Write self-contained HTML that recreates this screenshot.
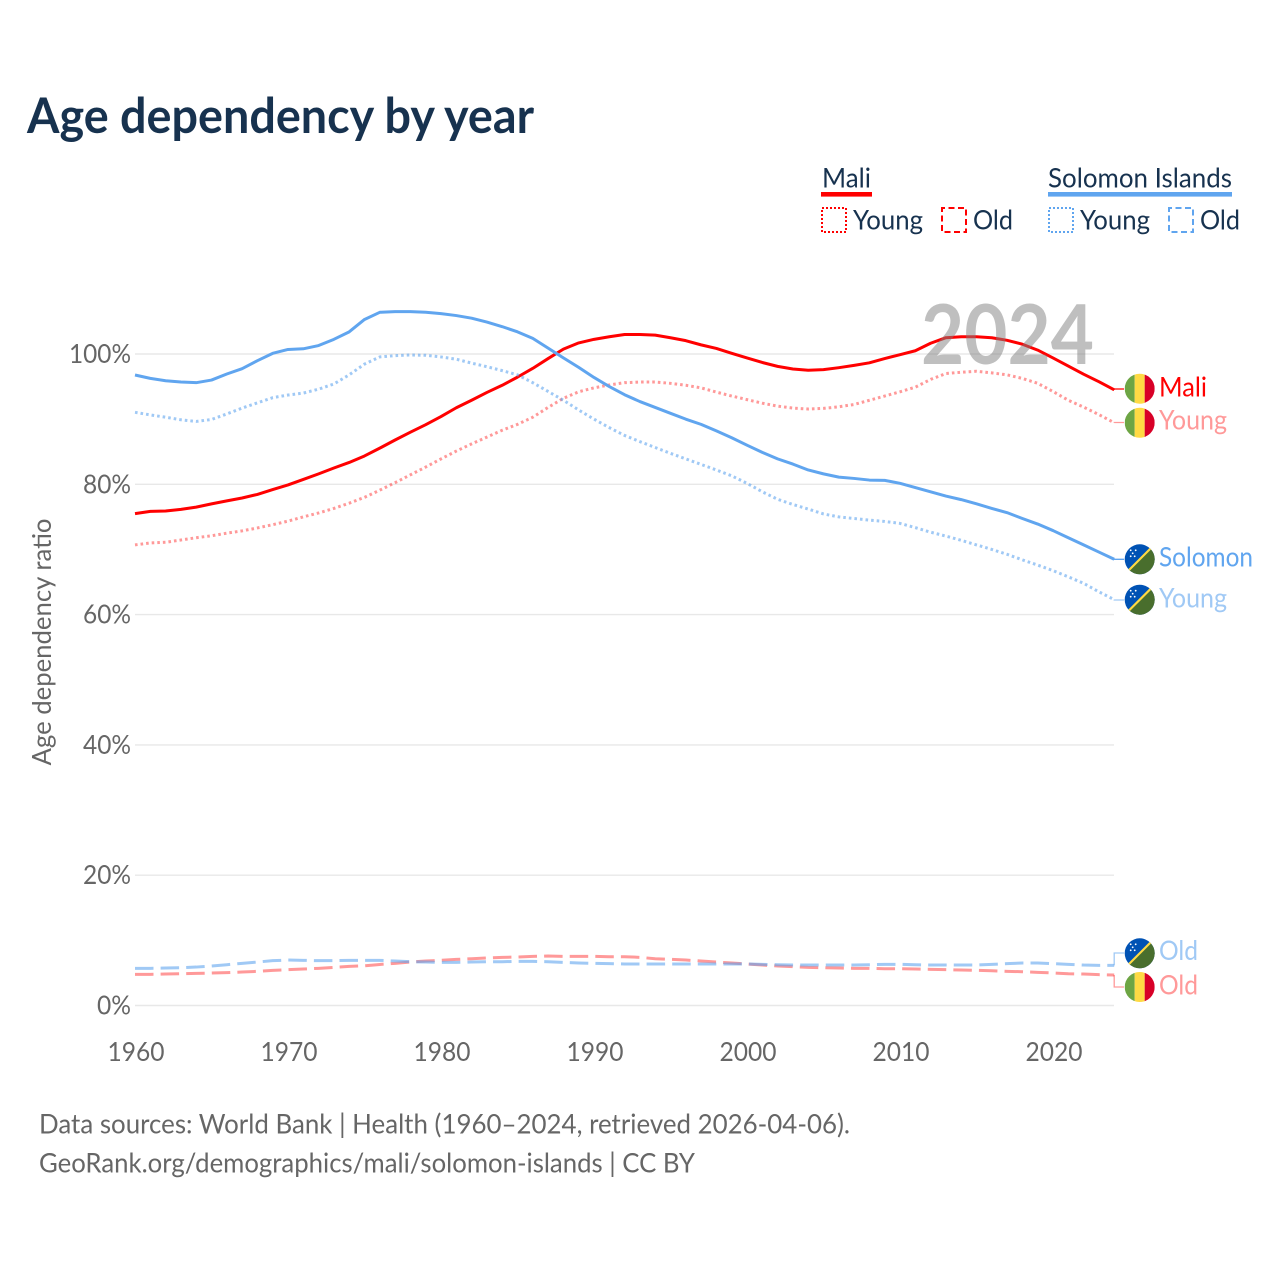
<!DOCTYPE html>
<html lang="en">
<head>
<meta charset="utf-8">
<title>Age dependency by year</title>
<style>
html,body{margin:0;padding:0;background:#fff}
svg{display:block;font-family:"Lato","Carlito","Liberation Sans",sans-serif}
</style>
</head>
<body>
<svg id="chart" xmlns="http://www.w3.org/2000/svg" width="1280" height="1280" viewBox="0 0 1280 1280">
  <defs>
    <clipPath id="flag-clip"><circle cx="0" cy="0" r="15"></circle></clipPath>
    <g id="flag-mali" clip-path="url(#flag-clip)">
      <rect x="-15" y="-16" width="10" height="32" fill="#6da544"></rect>
      <rect x="-5" y="-16" width="10" height="32" fill="#ffda44"></rect>
      <rect x="5" y="-16" width="10" height="32" fill="#d80027"></rect>
    </g>
    <g id="flag-solomon" clip-path="url(#flag-clip)">
      <rect x="-16" y="-16" width="32" height="32" fill="#0052b4"></rect>
      <polygon points="16,-16 16,16 -16,16" fill="#496e2d"></polygon>
      <line x1="-16" y1="16" x2="16" y2="-16" stroke="#ffda44" stroke-width="2.2"></line>
      <g fill="#fff">
        <circle cx="-9" cy="-3" r="0.9"></circle><circle cx="-5" cy="-3" r="0.9"></circle>
        <circle cx="-7" cy="-6" r="0.9"></circle><circle cx="-9" cy="-9" r="0.9"></circle><circle cx="-4" cy="-9" r="0.9"></circle>
      </g>
    </g>
  </defs>

  <text x="27" y="133" font-size="48.5" font-weight="700" fill="#17324f" textLength="507" lengthAdjust="spacingAndGlyphs">Age dependency by year</text>

  <g font-size="27.5" fill="#17324f">
    <text x="822" y="187.5" textLength="49" lengthAdjust="spacingAndGlyphs">Mali</text>
    <rect x="821" y="192" width="51" height="4.6" fill="#ff0000"></rect>
    <rect x="822" y="208" width="24" height="24" fill="none" stroke="#ff0000" stroke-width="2" stroke-dasharray="2 2"></rect>
    <text x="853" y="229.5" textLength="70" lengthAdjust="spacingAndGlyphs">Young</text>
    <rect x="942" y="208" width="24" height="24" fill="none" stroke="#ff0000" stroke-width="2" stroke-dasharray="6 3.5" stroke-dashoffset="3"></rect>
    <text x="973" y="229.5" textLength="40" lengthAdjust="spacingAndGlyphs">Old</text>

    <text x="1048" y="187.5" textLength="184" lengthAdjust="spacingAndGlyphs">Solomon Islands</text>
    <rect x="1048" y="192" width="184" height="4.6" fill="#60a5ef"></rect>
    <rect x="1049" y="208" width="24" height="24" fill="none" stroke="#60a5ef" stroke-width="2" stroke-dasharray="2 2"></rect>
    <text x="1080" y="229.5" textLength="70" lengthAdjust="spacingAndGlyphs">Young</text>
    <rect x="1169" y="208" width="24" height="24" fill="none" stroke="#60a5ef" stroke-width="2" stroke-dasharray="6 3.5" stroke-dashoffset="3"></rect>
    <text x="1200" y="229.5" textLength="40" lengthAdjust="spacingAndGlyphs">Old</text>
  </g>

  <g id="grid"></g>
  <g id="ticks" font-size="26" fill="#666666"></g>
  <text transform="translate(51,642) rotate(-90)" text-anchor="middle" font-size="26" fill="#666666" textLength="247" lengthAdjust="spacingAndGlyphs">Age dependency ratio</text>
  <g id="series" fill="none"></g>

  <text x="921" y="364" font-size="82" font-weight="700" fill="#808080" fill-opacity="0.5" textLength="173" lengthAdjust="spacingAndGlyphs">2024</text>

  <g font-size="27.5">
    <use href="#flag-mali" x="1139.7" y="388.7"></use>
    <text x="1159" y="396.5" fill="#ff0000" textLength="48" lengthAdjust="spacingAndGlyphs">Mali</text>
    <use href="#flag-mali" x="1139.7" y="422.8"></use>
    <text x="1159" y="429.5" fill="#ff9999" textLength="68" lengthAdjust="spacingAndGlyphs">Young</text>
    <use href="#flag-solomon" x="1139.7" y="559.3"></use>
    <text x="1159" y="566.5" fill="#60a5ef" textLength="94" lengthAdjust="spacingAndGlyphs">Solomon</text>
    <use href="#flag-solomon" x="1139.7" y="599.7"></use>
    <text x="1159" y="607.5" fill="#a0c9f5" textLength="68" lengthAdjust="spacingAndGlyphs">Young</text>
    <use href="#flag-solomon" x="1139.7" y="953.3"></use>
    <text x="1159" y="960" fill="#a0c9f5" textLength="39" lengthAdjust="spacingAndGlyphs">Old</text>
    <use href="#flag-mali" x="1139.7" y="987"></use>
    <text x="1159" y="994.5" fill="#ff9999" textLength="39" lengthAdjust="spacingAndGlyphs">Old</text>
  </g>

  <g font-size="27" fill="#666666">
    <text x="39" y="1133.5" textLength="811" lengthAdjust="spacingAndGlyphs">Data sources: World Bank | Health (1960–2024, retrieved 2026-04-06).</text>
    <text x="39" y="1172.5" textLength="656" lengthAdjust="spacingAndGlyphs">GeoRank.org/demographics/mali/solomon-islands | CC BY</text>
  </g>
</svg>

<script>
const firstYear = 1960;
const xTickYears = [1960, 1970, 1980, 1990, 2000, 2010, 2020];
const yTickValues = [0, 20, 40, 60, 80, 100];

const maliTotal = [75.5,75.85,75.9,76.15,76.5,77.0,77.45,77.9,78.45,79.2,79.9,80.75,81.6,82.5,83.35,84.35,85.55,86.8,88.0,89.15,90.4,91.75,92.9,94.1,95.2,96.45,
  97.8,99.3,100.75,101.7,102.25,102.65,103.0,103.0,102.9,102.5,102.05,101.4,100.85,100.1,99.4,98.7,98.1,97.7,97.5,
  97.6,97.9,98.25,98.65,99.3,99.9,100.5,101.65,102.5,102.65,102.65,102.5,102.1,101.5,100.6,99.4,98.15,96.9,95.75,94.5];
const maliYoung = [70.7,71.0,71.1,71.45,71.8,72.1,72.5,72.85,73.3,73.8,74.35,75.0,75.6,76.3,77.1,78.0,79.1,80.25,81.45,82.65,83.9,85.1,86.2,87.25,88.3,89.2,
  90.3,91.8,93.2,94.2,94.8,95.25,95.6,95.7,95.7,95.5,95.2,94.8,94.15,93.55,93.0,92.45,92.0,91.7,91.55,
  91.65,91.9,92.25,92.9,93.55,94.2,94.9,96.1,97.0,97.2,97.35,97.1,96.8,96.25,95.5,94.25,92.9,91.85,90.7,89.45];
const maliOld = [4.78,4.78,4.83,4.88,4.93,4.98,5.04,5.14,5.24,5.39,5.5,5.6,5.7,5.85,6.0,6.1,6.3,6.47,6.67,6.83,6.93,7.08,7.18,7.29,7.39,7.44,7.54,7.59,7.54,7.54,7.54,7.49,
  7.49,7.39,7.18,7.08,6.98,6.83,6.67,6.52,6.37,6.21,6.06,5.96,5.85,5.8,5.75,5.7,5.7,5.65,5.65,5.6,5.55,5.5,5.45,5.39,5.34,5.24,5.19,5.09,4.99,4.88,4.83,4.73,4.68];
const solomonTotal = [96.78,96.26,95.9,95.7,95.6,96.0,96.93,97.75,98.97,100.1,100.7,100.8,101.3,102.25,103.4,105.3,106.4,106.5,106.5,106.4,106.2,105.9,105.5,104.9,104.2,103.4,
  102.4,100.9,99.4,97.95,96.4,95.0,93.75,92.7,91.8,90.9,90.0,89.2,88.2,87.15,86.0,84.9,83.9,83.1,82.2,
  81.6,81.1,80.9,80.65,80.6,80.15,79.5,78.85,78.2,77.65,77.0,76.3,75.65,74.75,73.9,72.9,71.8,70.7,69.6,68.5];
const solomonYoung = [91.05,90.65,90.3,89.9,89.65,89.95,90.8,91.7,92.5,93.3,93.7,94.0,94.6,95.4,96.8,98.45,99.55,99.75,99.85,99.8,99.55,99.2,98.6,98.05,97.45,96.8,
  95.6,94.25,92.9,91.4,90.0,88.7,87.5,86.55,85.65,84.75,83.9,83.05,82.2,81.3,80.15,78.85,77.7,76.9,76.2,
  75.45,75.0,74.75,74.5,74.3,74.0,73.35,72.65,72.05,71.4,70.7,70.0,69.25,68.4,67.6,66.75,65.8,64.8,63.5,62.3];
const solomonOld = [5.7,5.7,5.75,5.8,5.9,6.06,6.26,6.47,6.67,6.88,6.98,6.93,6.88,6.88,6.93,6.93,6.93,6.83,6.72,6.67,6.62,6.62,6.67,6.72,6.72,6.78,6.78,6.72,6.62,6.52,6.47,6.42,
  6.37,6.37,6.37,6.37,6.37,6.37,6.37,6.37,6.37,6.32,6.26,6.21,6.21,6.21,6.21,6.21,6.26,6.32,6.32,6.26,6.21,6.21,6.21,6.21,6.32,6.42,6.52,6.52,6.42,6.32,6.21,6.16,6.16];

const SVGNS = 'http://www.w3.org/2000/svg';
function xScale(year) { return 135 + (year - firstYear) * 15.3; }
function yScale(value) { return 1005.5 - value * 6.515; }
function make(tag, parent, attrs) {
  const el = document.createElementNS(SVGNS, tag);
  for (const k in attrs) el.setAttribute(k, attrs[k]);
  parent.appendChild(el);
  return el;
}

const gridGroup = document.getElementById('grid');
const tickGroup = document.getElementById('ticks');
const seriesGroup = document.getElementById('series');

yTickValues.forEach(function (v) {
  const line = make('line', gridGroup, {x1: 135, x2: 1114, y1: yScale(v), y2: yScale(v), stroke: '#e8e8e8', 'stroke-width': 1.4});
  
  
  const label = String(v) + '%';
  const t = make('text', tickGroup, {x: 131, y: yScale(v) + 9, 'text-anchor': 'end', textLength: 14 * String(v).length + 20, lengthAdjust: 'spacingAndGlyphs'});
  t.textContent = label;
  
  
});

xTickYears.forEach(function (yr) {
  const t = make('text', tickGroup, {x: xScale(yr) + 1, y: 1061, 'text-anchor': 'middle', textLength: 57, lengthAdjust: 'spacingAndGlyphs'});
  t.textContent = String(yr);
  
  
});

function drawSeries(name, values, color, opacity, dash, flagY) {
  const d = values.map(function (v, i) {
    return (i ? 'L' : 'M') + xScale(firstYear + i).toFixed(2) + ' ' + yScale(v).toFixed(2);
  }).join(' ');
  const path = make('path', seriesGroup, {d: d, stroke: color, 'stroke-opacity': opacity, 'stroke-width': 3, 'stroke-linejoin': 'round'});
  if (dash) path.setAttribute('stroke-dasharray', dash);
  
  
  const endX = xScale(firstYear + values.length - 1);
  const endY = yScale(values[values.length - 1]);
  const link = make('path', seriesGroup, {d: 'M' + endX.toFixed(2) + ' ' + endY.toFixed(2) + ' V' + flagY + ' H1124', stroke: color, 'stroke-opacity': opacity, 'stroke-width': 1.3});
  
  
}

const DOT = '2.6 3';
const DASH = '18.5 7.1';
drawSeries('mali-old', maliOld, '#ff0000', 0.4, DASH, 987);
drawSeries('mali-young', maliYoung, '#ff0000', 0.4, DOT, 422.5);
drawSeries('mali-total', maliTotal, '#ff0000', 1, '', 389);
drawSeries('solomon-old', solomonOld, '#60a5ef', 0.6, DASH, 953);
drawSeries('solomon-young', solomonYoung, '#60a5ef', 0.6, DOT, 600);
drawSeries('solomon-total', solomonTotal, '#60a5ef', 1, '', 559.3);
</script>
</body>
</html>
